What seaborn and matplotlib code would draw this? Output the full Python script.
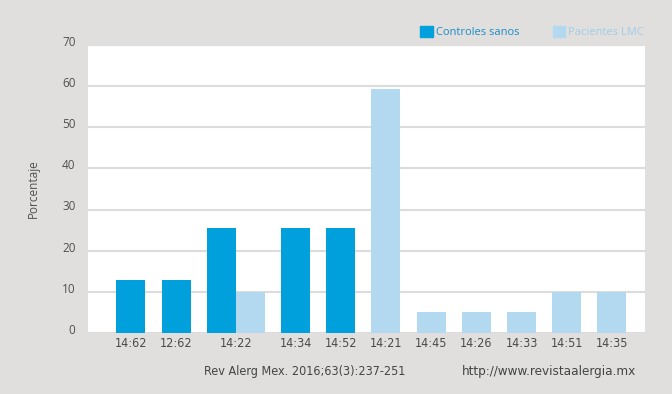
import numpy as np
import pandas as pd
import matplotlib
matplotlib.use("Agg")
import matplotlib.pyplot as plt
import seaborn as sns
from matplotlib.patches import Patch
from matplotlib.transforms import ScaledTranslation

# data
categorias = ['14:62', '12:62', '14:22', '14:34', '14:52', '14:21',
              '14:45', '14:26', '14:33', '14:51', '14:35']
controles = [13, 13, 25.5, 25.5, 25.5, None, None, None, None, None, None]
pacientes = [None, None, 10, None, None, 59.3, 5, 5, 5, 10, 10]
grupos = ['Controles sanos', 'Pacientes LMC']

c_oscuro = '#00a0dc'
c_claro = '#b3d9f0'
fondo = '#e0dfdd'

# bar positions: bars of one category touch, categories separated by a gap
gap = 0.56
filas = []
tick_pos = []
x = 0.0
for i, cat in enumerate(categorias):
    vals = [(grupos[0], controles[i]), (grupos[1], pacientes[i])]
    vals = [(g, v) for g, v in vals if v is not None]
    start = x
    for g, v in vals:
        filas.append({'pos': x, 'valor': v, 'grupo': g, 'cat': cat})
        x += 1
    tick_pos.append((start + x - 1) / 2)
    x += gap
df = pd.DataFrame(filas)

sns.set_theme(style='white')
plt.rcParams['font.family'] = ['Open Sans', 'DejaVu Sans']

fig = plt.figure(figsize=(6.72, 3.94), dpi=100, facecolor=fondo)
ax = fig.add_axes([88 / 672, 1 - 333 / 394, (645 - 88) / 672, (333 - 45) / 394])
ax.set_facecolor('white')

sns.barplot(data=df, x='pos', y='valor', hue='grupo', native_scale=True,
            dodge=False, width=1.0, palette=[c_oscuro, c_claro],
            hue_order=grupos, legend=False, ax=ax, saturation=1,
            edgecolor='none', linewidth=0)

ax.set_xlim(df['pos'].min() - 1.48, df['pos'].max() + 1.14)
ax.set_ylim(0, 70)
ax.set_yticks(range(0, 80, 10))
ax.yaxis.grid(True, color='#dcdcdc', linewidth=1.5)
ax.set_axisbelow(True)
for s in ax.spines.values():
    s.set_visible(False)

ax.set_xticks(tick_pos)
ax.set_xticklabels(categorias, fontsize=9, color='#4a4a4a',
                   family=['DejaVu Sans'], fontstretch='condensed')
ax.tick_params(axis='x', length=0, pad=3)
ax.tick_params(axis='y', length=0, pad=9, labelsize=8.5, labelcolor='#505050')
for lab in ax.get_yticklabels():
    lab.set_transform(lab.get_transform() + ScaledTranslation(0, 3 / 72, fig.dpi_scale_trans))

ax.set_xlabel('')
ax.set_ylabel('Porcentaje', fontsize=8.5, color='#505050', labelpad=16)

handles = [Patch(color=c_oscuro), Patch(color=c_claro)]
leg = fig.legend(handles, grupos, loc='upper right', bbox_to_anchor=(654 / 672, 1 - 16 / 394),
                 ncol=2, frameon=False, fontsize=8, handlelength=1.1, handleheight=1.1,
                 handletextpad=0.3, columnspacing=3.0)
for txt, col in zip(leg.get_texts(), ['#1a8cc8', '#9fcdea']):
    txt.set_color(col)

fig.text(305 / 672, 1 - 371 / 394, 'Rev Alerg Mex. 2016;63(3):237-251', ha='center', va='center',
         fontsize=9, color='#444444', family=['DejaVu Sans'], fontstretch='condensed')
fig.text(549 / 672, 1 - 371 / 394, 'http://www.revistaalergia.mx', ha='center', va='center',
         fontsize=9.6, color='#444444', family=['DejaVu Sans'], fontstretch='condensed')

fig.savefig('out.png', dpi=100, facecolor=fondo)
